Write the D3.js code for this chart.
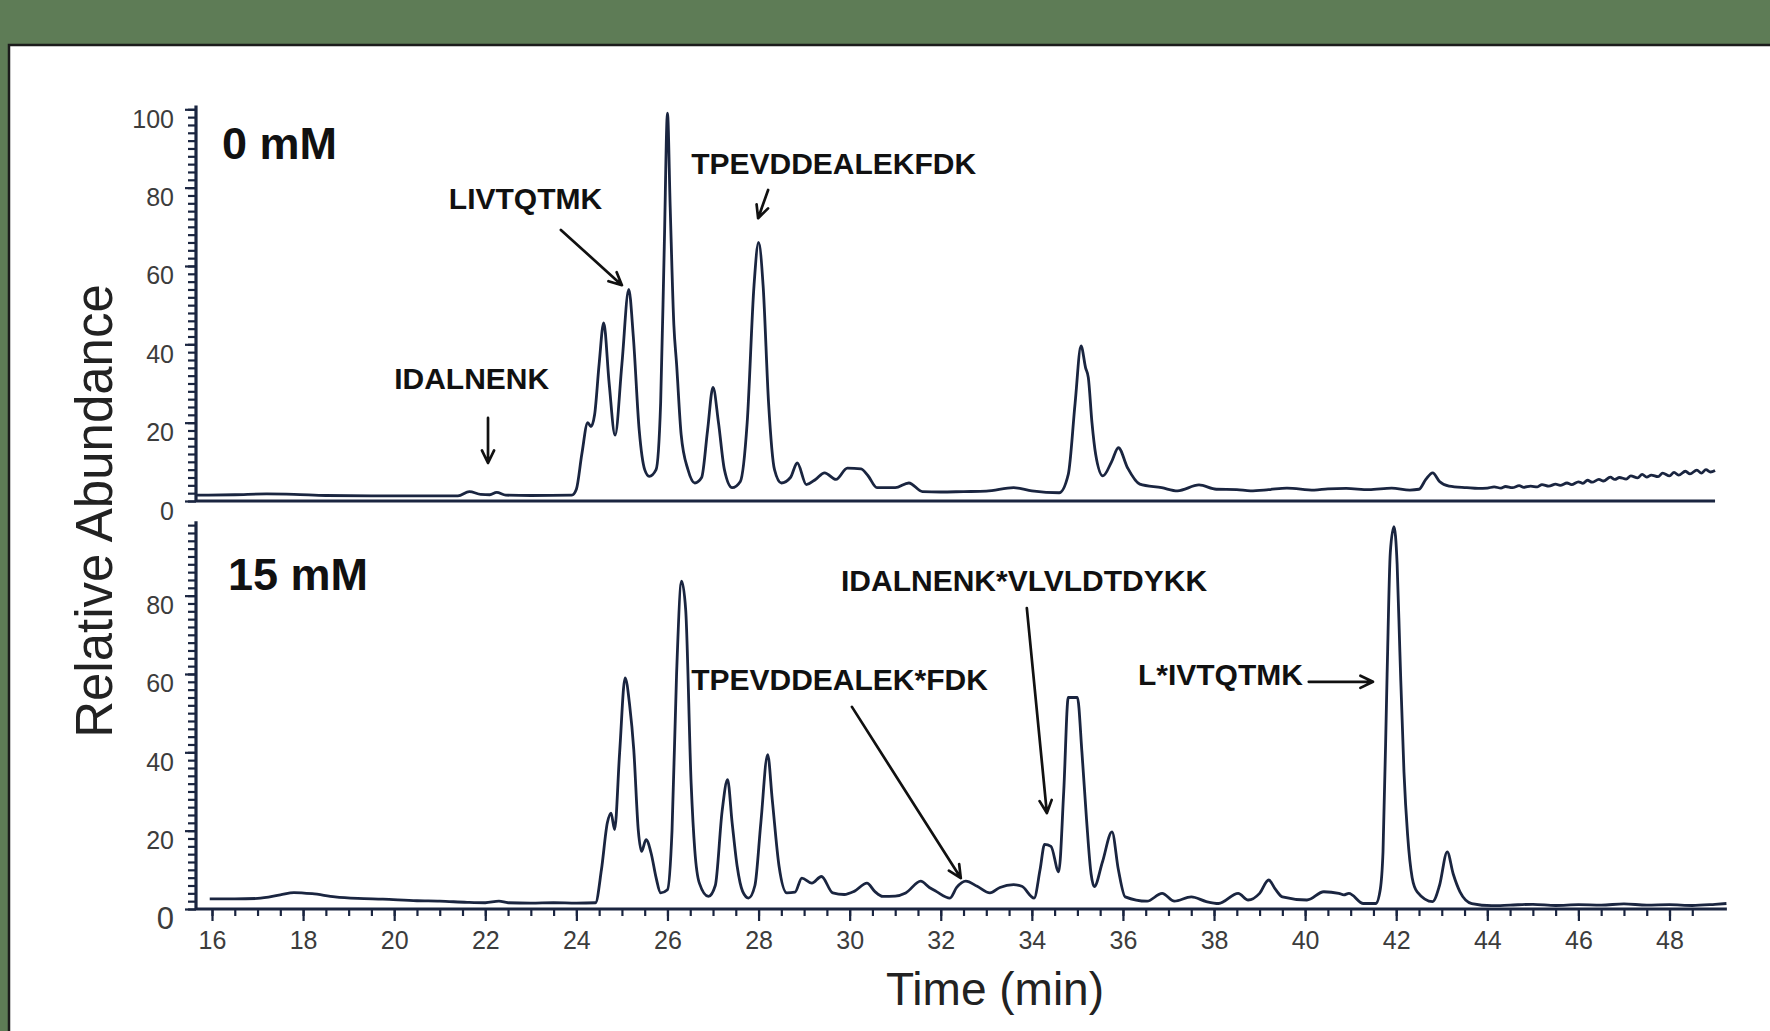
<!DOCTYPE html>
<html>
<head>
<meta charset="utf-8">
<script src="https://cdn.jsdelivr.net/npm/d3@7"></script>
<style>
  body { margin: 0; background: #5e7c56; overflow: hidden; }
  svg { display: block; font-family: "Liberation Sans", Arial, sans-serif; }
</style>
</head>
<body>
<svg id="chart" width="1770" height="1031"></svg>
<script>
/* global d3 */

// retention time (min), relative abundance (%)
var trace0mM = [
  [15.65,1.5],[16.5,1.6],[17.2,1.8],[17.8,1.7],[18.5,1.4],[19.5,1.3],[20.5,1.3],[21.4,1.3],
  [21.65,2.4],[21.9,1.7],[22.1,1.6],[22.25,2.2],[22.45,1.5],[23.0,1.4],[23.9,1.5],[24.0,3],
  [24.12,12],[24.25,20],[24.32,19],[24.4,22],[24.5,35],[24.6,45.5],[24.72,30],[24.85,16.8],
  [25.0,35],[25.15,54],[25.25,42],[25.38,18],[25.5,8],[25.6,6.3],[25.75,8],[25.85,25],
  [25.93,65],[26.0,99],[26.06,75],[26.14,45],[26.2,35],[26.3,17],[26.45,8],[26.6,4.6],
  [26.75,6],[26.88,18],[27.0,29],[27.12,20],[27.25,8],[27.42,3.4],[27.6,5],[27.75,20],
  [27.9,55],[28.0,66],[28.1,55],[28.22,25],[28.35,8],[28.5,4.6],[28.7,6],[28.85,9.7],
  [29.05,4.2],[29.25,5.5],[29.45,7.2],[29.7,5.5],[29.95,8.4],[30.25,8.2],[30.4,6.5],[30.6,3.4],
  [31.0,3.4],[31.3,4.6],[31.6,2.4],[32.0,2.3],[32.5,2.4],[33.0,2.5],[33.6,3.4],[34.0,2.6],
  [34.6,2.1],[34.8,6.8],[34.95,25],[35.08,39.6],[35.18,34],[35.24,31.5],[35.32,20],[35.4,12],
  [35.56,6.4],[35.75,10],[35.9,13.6],[36.1,8.5],[36.37,4.3],[36.85,3.4],[37.2,2.6],[37.67,4.1],
  [38.05,3.0],[38.5,2.9],[38.8,2.6],[39.2,2.9],[39.6,3.3],[40.2,2.8],[40.5,3.1],[40.9,3.2],
  [41.4,2.9],[41.9,3.3],[42.3,2.8],[42.5,3.0],[42.65,5.5],[42.8,7.2],[42.95,5.0],[43.16,3.8],
  [43.55,3.4],[43.8,3.2],[44.0,3.3],[44.15,3.6],[44.3,3.3],[44.4,3.7],[44.55,3.4],[44.7,3.9],
  [44.8,3.5],[44.95,3.8],[45.1,3.6],[45.2,4.2],[45.35,3.8],[45.5,4.3],[45.6,4.0],[45.75,4.6],
  [45.85,4.2],[46.0,4.9],[46.1,4.5],[46.2,5.3],[46.3,4.8],[46.45,5.5],[46.55,5.1],[46.7,6.1],
  [46.8,5.5],[46.9,6.0],[47.05,5.6],[47.15,6.4],[47.3,5.9],[47.4,6.8],[47.5,6.1],[47.6,6.6],
  [47.75,6.2],[47.85,7.1],[48.0,6.4],[48.1,7.3],[48.2,6.6],[48.35,7.6],[48.45,6.9],[48.6,7.9],
  [48.7,7.1],[48.8,8.0],[48.9,7.4],[49.0,7.8]
];

var trace15mM = [
  [15.95,2.6],[16.5,2.6],[17.0,2.7],[17.5,3.6],[17.8,4.2],[18.2,3.9],[18.7,3.1],[19.2,2.7],
  [19.75,2.5],[20.5,2.1],[21.0,2.0],[21.6,1.7],[22.0,1.6],[22.3,2.0],[22.5,1.6],[23.0,1.5],
  [23.5,1.6],[24.0,1.5],[24.42,1.6],[24.55,10],[24.68,22],[24.76,24.5],[24.84,20.3],[24.95,40],
  [25.07,59],[25.17,52],[25.26,40.7],[25.36,20],[25.43,14.7],[25.53,17.7],[25.64,14.3],[25.75,8],
  [25.85,4.1],[26.0,4.9],[26.1,20],[26.2,60],[26.31,83.7],[26.4,76.4],[26.52,32],[26.6,15],
  [26.7,6.6],[26.9,3.2],[27.05,6],[27.2,25],[27.32,33],[27.42,22],[27.53,10.9],[27.65,4.5],
  [27.78,2.8],[27.92,6],[28.05,22],[28.2,39.4],[28.3,28],[28.45,10.9],[28.62,4.1],[28.8,4.3],
  [28.95,7.9],[29.17,6.6],[29.38,8.3],[29.63,4.1],[29.88,3.7],[30.1,4.5],[30.38,6.6],[30.55,4.5],
  [30.73,3.2],[31.0,3.3],[31.23,4.1],[31.56,7.1],[31.75,5.5],[31.9,4.5],[32.2,2.8],[32.35,5.5],
  [32.55,7.1],[32.8,5.8],[33.08,4.1],[33.3,5.5],[33.6,6.2],[33.78,5.8],[34.05,2.8],[34.18,10],
  [34.28,16.5],[34.42,16],[34.59,9.5],[34.7,30],[34.8,54],[35.0,54],[35.1,40],[35.2,23],
  [35.3,9],[35.37,5.7],[35.55,12],[35.76,19.7],[35.9,10],[36.05,3.1],[36.53,2.0],[36.86,4],
  [37.13,2.0],[37.5,3.1],[37.83,1.9],[38.1,1.4],[38.53,4],[38.75,2.3],[39.0,4],[39.2,7.4],
  [39.35,5],[39.5,3.1],[40.04,2.3],[40.41,4.4],[40.74,4],[40.85,3.6],[40.96,4],[41.28,1.4],
  [41.55,1.4],[41.65,5],[41.71,14.6],[41.8,60],[41.87,91],[41.95,97.6],[42.02,88],[42.08,65.7],
  [42.17,35],[42.25,18.9],[42.35,8],[42.46,4.4],[42.8,1.9],[42.95,6],[43.12,14.6],[43.25,9],
  [43.4,4.4],[43.66,1.4],[44.1,0.85],[44.5,1.0],[45.0,1.2],[45.5,0.9],[46.0,1.1],[46.5,1.0],
  [47.0,1.3],[47.5,1.0],[48.0,1.1],[48.5,0.9],[49.0,1.2],[49.25,1.4]
];

var timeTicks = [16,18,20,22,24,26,28,30,32,34,36,38,40,42,44,46,48];
var abundanceTicksTop = [0,20,40,60,80,100];
var abundanceTicksBottom = [0,20,40,60,80];

var width = 1770, height = 1031,
	axisLeftX = 196,
	ink = "#1a2540";

var svg = d3.select("#chart");

svg.append("rect").attr("width", width).attr("height", height).attr("fill", "#5e7c56");
svg.append("rect")
	.attr("x", 9).attr("y", 45)
	.attr("width", 1800).attr("height", 1100)
	.attr("fill", "#fff")
	.attr("stroke", "#1b1b1b")
	.attr("stroke-width", 2.5);

var x = d3.scaleLinear().domain([16, 48]).range([212, 1669.5]);
var yTop = d3.scaleLinear().domain([0, 100]).range([501, 109.3]);
var yBot = d3.scaleLinear().domain([0, 100]).range([909, 517.3]);

// y axis with a dense comb of minor ticks
function drawY(y, topValue, majors) {
	var g = svg.append("g").attr("transform", "translate(" + axisLeftX + ",0)");

	g.append("g")
		.call(d3.axisLeft(y).tickValues(d3.range(0, topValue + 0.01, 2)).tickSize(8).tickFormat(""));
	var major = g.append("g")
		.call(d3.axisLeft(y).tickValues(majors).tickSize(11).tickPadding(11));

	g.selectAll(".domain").remove();
	g.selectAll("g").attr("font-size", null).attr("font-family", null);
	g.selectAll("line").attr("stroke", ink).attr("stroke-width", 2.2);
	major.selectAll("text")
		.attr("y", 10)
		.attr("fill", "#3c3c3c")
		.style("font-size", "25px");

	g.append("line")
		.attr("y1", y(topValue + 1)).attr("y2", y(0))
		.attr("stroke", ink).attr("stroke-width", 3.2);
	return major;
}

drawY(yTop, 100, abundanceTicksTop);
var bottomMajor = drawY(yBot, 98, abundanceTicksBottom);
bottomMajor.selectAll("text")
	.filter(function(d) { return d === 0; })
	.style("font-size", "31px");

// top panel baseline
svg.append("line")
	.attr("x1", axisLeftX).attr("x2", x(49))
	.attr("y1", yTop(0)).attr("y2", yTop(0))
	.attr("stroke", ink).attr("stroke-width", 3.2);

// time axis
var gx = svg.append("g").attr("transform", "translate(0," + yBot(0) + ")");
gx.append("g")
	.call(d3.axisBottom(x).tickValues(d3.range(16, 48.6, 0.5)).tickSize(7).tickFormat(""));
gx.append("g")
	.call(d3.axisBottom(x).tickValues(timeTicks).tickSize(12).tickPadding(10));
gx.selectAll(".domain").remove();
gx.selectAll("g").attr("font-size", null).attr("font-family", null);
gx.selectAll("line").attr("stroke", ink).attr("stroke-width", 2.2);
gx.selectAll("text").attr("fill", "#3c3c3c").style("font-size", "25px");
gx.append("line")
	.attr("x1", axisLeftX).attr("x2", x(49.26))
	.attr("stroke", ink).attr("stroke-width", 3.2);

// chromatograms
function drawTrace(data, y) {
	var line = d3.line()
		.x(function(d) { return x(d[0]); })
		.y(function(d) { return y(d[1]); })
		.curve(d3.curveMonotoneX);
	svg.append("path")
		.datum(data)
		.attr("fill", "none")
		.attr("stroke", ink)
		.attr("stroke-width", 2.8)
		.attr("stroke-linejoin", "round")
		.attr("d", line);
}
drawTrace(trace0mM, yTop);
drawTrace(trace15mM, yBot);

// labels
function label(txt, t, v, y, size) {
	svg.append("text")
		.attr("x", x(t)).attr("y", y(v))
		.attr("fill", "#111")
		.style("font-weight", "bold")
		.style("font-size", size + "px")
		.text(txt);
}

function arrow(y, t1, v1, t2, v2) {
	var x1 = x(t1), y1 = y(v1), x2 = x(t2), y2 = y(v2),
		a = Math.atan2(y2 - y1, x2 - x1), len = 14, spread = 0.45;
	var p = d3.path();
	p.moveTo(x1, y1);
	p.lineTo(x2, y2);
	p.moveTo(x2 - len * Math.cos(a - spread), y2 - len * Math.sin(a - spread));
	p.lineTo(x2, y2);
	p.lineTo(x2 - len * Math.cos(a + spread), y2 - len * Math.sin(a + spread));
	svg.append("path")
		.attr("d", p.toString())
		.attr("fill", "none")
		.attr("stroke", "#111")
		.attr("stroke-width", 2.7)
		.attr("stroke-linecap", "round")
		.attr("stroke-linejoin", "round");
}

label("0 mM", 16.22, 87.2, yTop, 45);
label("IDALNENK", 20.0, 28.6, yTop, 30);
arrow(yTop, 22.06, 21.2, 22.06, 9.7);
label("LIVTQTMK", 21.2, 74.5, yTop, 30);
arrow(yTop, 23.66, 69.2, 25.0, 55.1);
label("TPEVDDEALEKFDK", 26.52, 83.5, yTop, 30);
arrow(yTop, 28.21, 79.4, 27.99, 72.2);

label("15 mM", 16.35, 81.4, yBot, 45);
label("IDALNENK*VLVLDTDYKK", 29.81, 81.2, yBot, 30);
arrow(yBot, 33.89, 76.8, 34.33, 24.5);
label("TPEVDDEALEK*FDK", 26.52, 55.9, yBot, 30);
arrow(yBot, 30.05, 51.6, 32.44, 7.9);
label("L*IVTQTMK", 36.33, 57.2, yBot, 30);
arrow(yBot, 40.08, 58, 41.49, 58);

// axis titles
svg.append("text")
	.attr("transform", "translate(112,511) rotate(-90)")
	.attr("text-anchor", "middle")
	.attr("fill", "#222")
	.style("font-size", "51px")
	.text("Relative Abundance");

svg.append("text")
	.attr("x", 995).attr("y", 1005)
	.attr("text-anchor", "middle")
	.attr("fill", "#222")
	.style("font-size", "46px")
	.text("Time (min)");
</script>
</body>
</html>
